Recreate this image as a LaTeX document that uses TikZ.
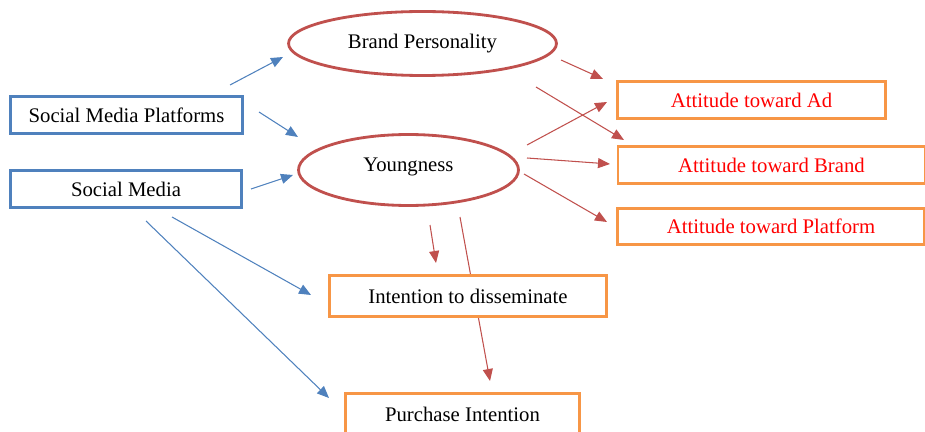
\documentclass[tikz,border=0pt]{standalone}
\usepackage{fontspec}
\setmainfont{Liberation Serif}
\usetikzlibrary{arrows.meta,shapes.geometric}
\definecolor{boxblue}{HTML}{4F81BD}
\definecolor{ovalred}{HTML}{C0504D}
\definecolor{boxorange}{HTML}{F79646}
\tikzset{
  srcbox/.style={draw=boxblue, line width=1.6pt, fill=white, rectangle, inner sep=0pt, minimum height=0.74cm},
  outbox/.style={draw=boxorange, line width=1.6pt, fill=white, rectangle, inner sep=0pt, minimum height=0.74cm},
  oval/.style={draw=ovalred, line width=1.6pt, fill=white, ellipse, inner sep=0pt},
  bluearr/.style={draw=boxblue, line width=0.6pt, -{Triangle[length=0.24cm,width=0.2cm]}},
  redarr/.style={draw=ovalred, line width=0.6pt, -{Triangle[length=0.24cm,width=0.2cm]}},
  lbl/.style={font=\fontsize{11.8}{14}\selectfont}
}

\begin{document}
\begin{tikzpicture}[x=0.02cm, y=-0.02cm]
		\useasboundingbox (0, 0) rectangle (925, 432);
		%%%%% arrow ends %%%%%
		\coordinate (smp2bp-s) at (230, 85);   \coordinate (smp2bp-e) at (283, 57);
		\coordinate (smp2yg-s) at (259, 112);  \coordinate (smp2yg-e) at (298, 137);
		\coordinate (sm2yg-s) at (251, 189);   \coordinate (sm2yg-e) at (293, 175);
		\coordinate (sm2int-s) at (172, 217);  \coordinate (sm2int-e) at (311, 295);
		\coordinate (sm2pi-s) at (146, 221);   \coordinate (sm2pi-e) at (329, 398);
		\coordinate (bp2ad-s) at (561, 60);    \coordinate (bp2ad-e) at (603, 79);
		\coordinate (bp2br-s) at (536, 87);    \coordinate (bp2br-e) at (624, 140);
		\coordinate (yg2ad-s) at (527, 145);   \coordinate (yg2ad-e) at (607, 102);
		\coordinate (yg2br-s) at (527, 158);   \coordinate (yg2br-e) at (610, 164);
		\coordinate (yg2pf-s) at (524, 174);   \coordinate (yg2pf-e) at (607, 222);
		\coordinate (yg2int-s) at (430, 225);  \coordinate (yg2int-e) at (436, 263);
		\coordinate (yg2pi-s) at (460, 217);   \coordinate (yg2pi-e) at (490, 381);
		
		%%%%% arrows %%%%%
		\draw[bluearr] (smp2bp-s) -- (smp2bp-e);
		\draw[bluearr] (smp2yg-s) -- (smp2yg-e);
		\draw[bluearr] (sm2yg-s) -- (sm2yg-e);
		\draw[bluearr] (sm2int-s) -- (sm2int-e);
		\draw[bluearr] (sm2pi-s) -- (sm2pi-e);
		\draw[redarr] (bp2ad-s) -- (bp2ad-e);
		\draw[redarr] (bp2br-s) -- (bp2br-e);
		\draw[redarr] (yg2ad-s) -- (yg2ad-e);
		\draw[redarr] (yg2br-s) -- (yg2br-e);
		\draw[redarr] (yg2pf-s) -- (yg2pf-e);
		\draw[redarr] (yg2int-s) -- (yg2int-e);
		\draw[redarr] (yg2pi-s) -- (yg2pi-e);
		
		%%%%% sources %%%%%
		\node[srcbox, lbl, minimum width=4.64cm] (smp) at (126.5, 115) {Social Media Platforms};
		\node[srcbox, lbl, minimum width=4.62cm] (sm) at (126, 189) {Social Media};
		
		%%%%% mediators %%%%%
		\node[oval, lbl, minimum width=5.36cm, minimum height=1.28cm] (bp) at (422.5, 43.5) {Brand Personality};
		\node[oval, lbl, minimum width=4.4cm, minimum height=1.42cm, text depth=0.2cm] (yg) at (408.5, 170) {Youngness};
		
		%%%%% outcomes %%%%%
		\node[outbox, lbl, text=red, minimum width=5.36cm] (ad) at (751.5, 100) {Attitude toward Ad};
		\node[outbox, lbl, text=red, minimum width=6.14cm] (br) at (771.5, 165) {Attitude toward Brand};
		\node[outbox, lbl, text=red, minimum width=6.14cm, minimum height=0.72cm] (pf) at (771, 226.5) {Attitude toward Platform};
		\node[outbox, lbl, minimum width=5.54cm, minimum height=0.82cm] (int) at (468, 296) {Intention to disseminate};
		\node[outbox, lbl, minimum width=4.68cm, minimum height=0.82cm] (pi) at (462.5, 414) {Purchase Intention};
	\end{tikzpicture}
\end{document}
